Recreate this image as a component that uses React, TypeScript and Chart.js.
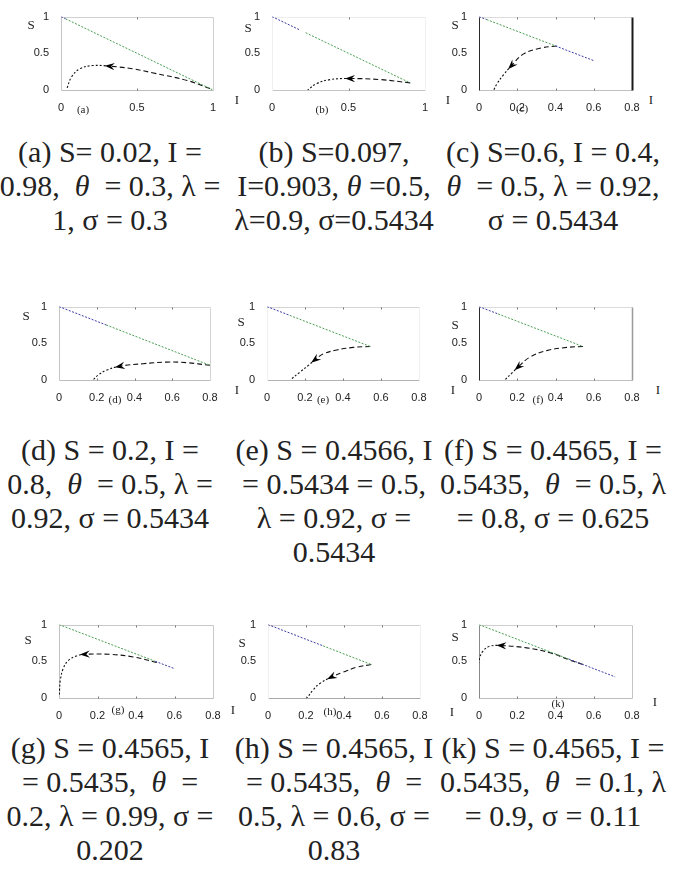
import { useEffect, useRef } from "react";
import { Chart, registerables } from "chart.js";

Chart.register(...registerables);

type Pt = [number, number]; // [I, S]

// Axis ticks
const yTicks = [0, 0.5, 1];
const xTicksUnit = [0, 0.5, 1];
const xTicksWide = [0, 0.2, 0.4, 0.6, 0.8];

// (a) S = 0.02, I = 0.98
const blueA: Pt[] = [[0, 1], [0.03, 0.97]];
const greenA: Pt[] = [[0.03, 0.97], [1, 0]];
const trajA: Pt[] = [[0.98, 0.02], [0.83, 0.13], [0.6, 0.235], [0.47, 0.29], [0.32, 0.324], [0.21, 0.333], [0.125, 0.29], [0.07, 0.18], [0.037, 0.01]];

// (b) S = 0.097, I = 0.903
const blueB: Pt[] = [[0, 1], [0.18, 0.82]];
const greenB: Pt[] = [[0.22, 0.78], [0.903, 0.097]];
const trajB: Pt[] = [[0.903, 0.097], [0.707, 0.142], [0.51, 0.156], [0.38, 0.142], [0.293, 0.089], [0.233, 0]];

// (c) S = 0.6, I = 0.4
const blueC: Pt[] = [[0, 1], [0.04, 0.96]];
const greenC: Pt[] = [[0.04, 0.96], [0.4, 0.6]];
const blueC2: Pt[] = [[0.4, 0.6], [0.6, 0.4]];
const trajC: Pt[] = [[0.406, 0.6], [0.319, 0.569], [0.231, 0.489], [0.17, 0.333], [0.126, 0.2], [0.095, 0.089], [0.077, 0]];

// (d) S = 0.2, I = 0.8
const blueD: Pt[] = [[0, 1], [0.25, 0.75]];
const greenD: Pt[] = [[0.25, 0.75], [0.8, 0.2]];
const trajD: Pt[] = [[0.8, 0.2], [0.676, 0.236], [0.57, 0.244], [0.446, 0.222], [0.322, 0.187], [0.251, 0.133], [0.207, 0.067], [0.18, 0]];

// (e) S = 0.4566, I = 0.5434
const blueE: Pt[] = [[0, 1], [0.12, 0.88]];
const greenE: Pt[] = [[0.12, 0.88], [0.5434, 0.4566]];
const trajE: Pt[] = [[0.5434, 0.4566], [0.454, 0.444], [0.367, 0.409], [0.297, 0.356], [0.253, 0.276], [0.218, 0.2], [0.175, 0.111], [0.122, 0]];

// (f) S = 0.4565, I = 0.5435
const blueF: Pt[] = [[0, 1], [0.1, 0.9]];
const greenF: Pt[] = [[0.1, 0.9], [0.5435, 0.4565]];
const trajF: Pt[] = [[0.5435, 0.4565], [0.459, 0.444], [0.354, 0.4], [0.266, 0.311], [0.205, 0.178], [0.17, 0.089], [0.135, 0]];

// (g) S = 0.4565, I = 0.5435
const greenG: Pt[] = [[0, 1], [0.5, 0.5]];
const blueG: Pt[] = [[0.5, 0.5], [0.6, 0.4]];
const trajG: Pt[] = [[0.508, 0.485], [0.386, 0.559], [0.264, 0.595], [0.134, 0.595], [0.09, 0.573], [0.047, 0.507], [0.021, 0.396], [0.007, 0.242], [0.003, 0.11], [0.002, 0.03]];

// (h) S = 0.4565, I = 0.5435
const blueH: Pt[] = [[0, 1], [0.29, 0.71]];
const greenH: Pt[] = [[0.29, 0.71], [0.5435, 0.4565]];
const trajH: Pt[] = [[0.5435, 0.4565], [0.466, 0.419], [0.396, 0.352], [0.334, 0.286], [0.273, 0.198], [0.237, 0.11], [0.206, 0]];

// (k) S = 0.4565, I = 0.5435
const greenK: Pt[] = [[0, 1], [0.47, 0.53]];
const blueK: Pt[] = [[0.47, 0.53], [0.712, 0.288]];
const trajK: Pt[] = [[0.5435, 0.4565], [0.476, 0.515], [0.371, 0.617], [0.249, 0.683], [0.117, 0.714], [0.056, 0.705], [0.021, 0.639], [0.004, 0.551], [0, 0.485]];

// Captions
const capA = ["(a) S= 0.02, I =", "0.98, \u00a0θ\u00a0 = 0.3, λ =", "1, σ = 0.3"];
const capB = ["(b) S=0.097,", "I=0.903, θ\u00a0=0.5,", "λ=0.9, σ=0.5434"];
const capC = ["(c) S=0.6, I = 0.4,", "θ\u00a0 = 0.5, λ = 0.92,", "σ = 0.5434"];
const capD = ["(d) S = 0.2, I =", "0.8, \u00a0θ\u00a0 = 0.5, λ =", "0.92, σ = 0.5434"];
const capE = ["(e) S = 0.4566, I", "= 0.5434 = 0.5,", "λ = 0.92, σ =", "0.5434"];
const capF = ["(f) S = 0.4565, I =", "0.5435, \u00a0θ\u00a0 = 0.5, λ", "= 0.8, σ = 0.625"];
const capG = ["(g) S = 0.4565, I", "= 0.5435, \u00a0θ\u00a0 =", "0.2, λ = 0.99, σ =", "0.202"];
const capH = ["(h) S = 0.4565, I", "= 0.5435, \u00a0θ\u00a0 =", "0.5, λ = 0.6, σ =", "0.83"];
const capK = ["(k) S = 0.4565, I =", "0.5435, \u00a0θ\u00a0 = 0.1, λ", "= 0.9, σ = 0.11"];

const BLUE = "#3c3ca8";
const GREEN = "#4a9f52";

type Edge = [string, number];
interface PanelSpec {
  id: string;
  l: number; t: number; w: number; h: number;
  xMax: number;
  xTicks: number[];
  blue: Pt[][];
  green: Pt[][];
  traj: Pt[];
  arrowAt: number;
  edges: { top: Edge; right: Edge; bottom: Edge; left: Edge };
}

const PAD_L = 30, PAD_T = 9, PAD_R = 14, PAD_B = 22;

const PANELS: PanelSpec[] = [
  { id: "a", l: 61, t: 15, w: 152, h: 75, xMax: 1, xTicks: xTicksUnit, blue: [blueA], green: [greenA], traj: trajA, arrowAt: 4,
    edges: { top: ["#d0d0d0", 1], right: ["#d0d0d0", 1], bottom: ["#bdbdbd", 1], left: ["#c4c4c4", 1] } },
  { id: "b", l: 272, t: 15, w: 153, h: 75, xMax: 1, xTicks: xTicksUnit, blue: [blueB], green: [greenB], traj: trajB, arrowAt: 2,
    edges: { top: ["#ececec", 1], right: ["#f0f0f0", 1], bottom: ["#c4c4c4", 1], left: ["#f0f0f0", 1] } },
  { id: "c", l: 479, t: 15, w: 153, h: 75, xMax: 0.8, xTicks: xTicksWide, blue: [blueC, blueC2], green: [greenC], traj: trajC, arrowAt: 3,
    edges: { top: ["#dcdcdc", 1], right: ["#1a1a1a", 2], bottom: ["#c0c0c0", 1], left: ["#2a2a2a", 1] } },
  { id: "d", l: 59, t: 305, w: 151, h: 75, xMax: 0.8, xTicks: xTicksWide, blue: [blueD], green: [greenD], traj: trajD, arrowAt: 4,
    edges: { top: ["#d4d4d4", 1], right: ["#d4d4d4", 1], bottom: ["#bdbdbd", 1], left: ["#c4c4c4", 1] } },
  { id: "e", l: 267, t: 305, w: 152, h: 75, xMax: 0.8, xTicks: xTicksWide, blue: [blueE], green: [greenE], traj: trajE, arrowAt: 4,
    edges: { top: ["#d4d4d4", 1], right: ["#f0f0f0", 1], bottom: ["#b4b4b4", 1], left: ["#f0f0f0", 1] } },
  { id: "f", l: 479, t: 305, w: 153, h: 75, xMax: 0.8, xTicks: xTicksWide, blue: [blueF], green: [greenF], traj: trajF, arrowAt: 4,
    edges: { top: ["#dcdcdc", 1], right: ["#9a9a9a", 1.5], bottom: ["#c0c0c0", 1], left: ["#2a2a2a", 1] } },
  { id: "g", l: 59, t: 623, w: 154, h: 75, xMax: 0.8, xTicks: xTicksWide, blue: [blueG], green: [greenG], traj: trajG, arrowAt: 3,
    edges: { top: ["#c8c8c8", 1], right: ["#c8c8c8", 1], bottom: ["#bdbdbd", 1], left: ["#c0c0c0", 1] } },
  { id: "h", l: 268, t: 623, w: 152, h: 75, xMax: 0.8, xTicks: xTicksWide, blue: [blueH], green: [greenH], traj: trajH, arrowAt: 3,
    edges: { top: ["#cfcfcf", 1], right: ["#f0f0f0", 1], bottom: ["#a8a8a8", 1], left: ["#f0f0f0", 1] } },
  { id: "k", l: 479, t: 623, w: 153, h: 75, xMax: 0.8, xTicks: xTicksWide, blue: [blueK], green: [greenK], traj: trajK, arrowAt: 4,
    edges: { top: ["#cfcfcf", 1], right: ["#c4c4c4", 1], bottom: ["#bdbdbd", 1], left: ["#8a8a8a", 1] } },
];

const series = (pts: Pt[]) => pts.map(([x, y]) => ({ x, y }));
const tickText = (v: number | string) => String(Math.round(Number(v) * 100) / 100);

// Frame, inner tick marks and the direction arrow on the trajectory
function decoPlugin(spec: PanelSpec) {
  return {
    id: "deco" + spec.id,
    beforeDatasetsDraw(chart: any) {
      const { ctx, chartArea: a } = chart;
      const line = (e: Edge, x1: number, y1: number, x2: number, y2: number) => {
        ctx.save();
        ctx.strokeStyle = e[0];
        ctx.lineWidth = e[1];
        ctx.beginPath();
        ctx.moveTo(x1, y1);
        ctx.lineTo(x2, y2);
        ctx.stroke();
        ctx.restore();
      };
      const L = Math.round(a.left) + 0.5, R = Math.round(a.right) + 0.5;
      const T = Math.round(a.top) + 0.5, B = Math.round(a.bottom) + 0.5;
      line(spec.edges.top, L, T, R, T);
      line(spec.edges.bottom, L, B, R, B);
      line(spec.edges.left, L, T, L, B);
      line(spec.edges.right, R, T, R, B);
      const xs = chart.scales.x;
      ctx.save();
      ctx.strokeStyle = "#777";
      ctx.lineWidth = 1;
      for (const tk of xs.ticks) {
        const px = Math.round(xs.getPixelForValue(tk.value)) + 0.5;
        if (px <= L + 1 || px >= R - 1) continue;
        ctx.beginPath();
        ctx.moveTo(px, T);
        ctx.lineTo(px, T + 2);
        ctx.moveTo(px, B);
        ctx.lineTo(px, B - 2);
        ctx.stroke();
      }
      ctx.restore();
    },
    afterDatasetsDraw(chart: any) {
      const meta = chart.getDatasetMeta(chart.data.datasets.length - 1);
      const pts = meta.data;
      const p = pts[spec.arrowAt], p0 = pts[spec.arrowAt - 1], p1 = pts[spec.arrowAt + 1];
      if (!p || !p0 || !p1) return;
      let dx = p1.x - p0.x, dy = p1.y - p0.y;
      const len = Math.hypot(dx, dy) || 1;
      dx /= len; dy /= len;
      const nx = -dy, ny = dx;
      const L = 10, W = 3.6;
      const tx = p.x + dx * L * 0.5, ty = p.y + dy * L * 0.5;
      const bx = p.x - dx * L * 0.5, by = p.y - dy * L * 0.5;
      const ctx = chart.ctx;
      ctx.save();
      ctx.fillStyle = "#000";
      ctx.beginPath();
      ctx.moveTo(tx, ty);
      ctx.lineTo(bx + nx * W, by + ny * W);
      ctx.lineTo(p.x - dx * L * 0.15, p.y - dy * L * 0.15);
      ctx.lineTo(bx - nx * W, by - ny * W);
      ctx.closePath();
      ctx.fill();
      ctx.restore();
    },
  };
}

function Panel({ spec }: { spec: PanelSpec }) {
  const ref = useRef<HTMLCanvasElement>(null);
  const cw = spec.w + PAD_L + PAD_R;
  const ch = spec.h + PAD_T + PAD_B;

  useEffect(() => {
    if (!ref.current) return;
    const tickFont = { family: "'Liberation Sans', Arial, sans-serif", size: 11 };
    const datasets: any[] = [
      ...spec.blue.map((seg) => ({
        data: series(seg), borderColor: BLUE, borderWidth: 1, borderDash: [2, 1.5], pointRadius: 0, tension: 0,
      })),
      ...spec.green.map((seg) => ({
        data: series(seg), borderColor: GREEN, borderWidth: 1, borderDash: [2, 1.5], pointRadius: 0, tension: 0,
      })),
      {
        data: series(spec.traj), borderColor: "#111", borderWidth: 1.1, pointRadius: 0, tension: 0.4,
        segment: { borderDash: (c: any) => (c.p0DataIndex < spec.arrowAt ? [5, 3] : [2, 2]) },
      },
    ];
    const chart = new Chart(ref.current, {
      type: "line",
      data: { datasets },
      options: {
        animation: false,
        responsive: false,
        events: [],
        layout: { padding: { top: PAD_T, right: PAD_R, left: 0, bottom: 0 } },
        plugins: { legend: { display: false }, tooltip: { enabled: false } },
        scales: {
          x: {
            type: "linear", min: 0, max: spec.xMax,
            afterBuildTicks: (s: any) => { s.ticks = spec.xTicks.map((v) => ({ value: v })); },
            afterFit: (s: any) => { s.height = PAD_B; },
            grid: { display: false }, border: { display: false },
            ticks: { font: tickFont, color: "#222", padding: 3, maxRotation: 0, autoSkip: false, callback: tickText },
          },
          y: {
            type: "linear", min: 0, max: 1,
            afterBuildTicks: (s: any) => { s.ticks = yTicks.map((v) => ({ value: v })); },
            afterFit: (s: any) => { s.width = PAD_L; },
            grid: { display: false }, border: { display: false },
            ticks: { font: tickFont, color: "#222", padding: 4, autoSkip: false, callback: tickText },
          },
        },
      } as any,
      plugins: [decoPlugin(spec)],
    });
    return () => chart.destroy();
  }, [spec]);

  return (
    <canvas
      ref={ref}
      width={cw}
      height={ch}
      style={{ position: "absolute", left: spec.l - PAD_L, top: spec.t - PAD_T, width: cw, height: ch }}
    />
  );
}

// Small axis-name and sub-panel labels
const MARKS: { text: string; x: number; y: number; size: number }[] = [
  { text: "S", x: 31, y: 25, size: 13 }, { text: "(a)", x: 83, y: 109, size: 11 },
  { text: "S", x: 248, y: 28, size: 13 }, { text: "(b)", x: 322, y: 109, size: 11 },
  { text: "I", x: 237, y: 100, size: 13 }, { text: "I", x: 448, y: 100, size: 13 },
  { text: "S", x: 455, y: 25, size: 13 }, { text: "(c)", x: 522, y: 108, size: 11 }, { text: "I", x: 651, y: 100, size: 13 },
  { text: "S", x: 26, y: 316, size: 13 }, { text: "(d)", x: 115, y: 399, size: 11 },
  { text: "S", x: 241, y: 322, size: 13 }, { text: "(e)", x: 323, y: 399, size: 11 }, { text: "I", x: 237, y: 390, size: 13 },
  { text: "S", x: 455, y: 325, size: 13 }, { text: "(f)", x: 538, y: 399, size: 11 },
  { text: "I", x: 453, y: 390, size: 13 }, { text: "I", x: 658, y: 390, size: 13 },
  { text: "S", x: 28, y: 640, size: 13 }, { text: "(g)", x: 118, y: 709, size: 11 },
  { text: "S", x: 242, y: 643, size: 13 }, { text: "(h)", x: 330, y: 711, size: 11 }, { text: "I", x: 233, y: 710, size: 13 },
  { text: "S", x: 455, y: 637, size: 13 }, { text: "(k)", x: 558, y: 703, size: 11 },
  { text: "I", x: 452, y: 712, size: 13 }, { text: "I", x: 655, y: 702, size: 13 },
];

const CAPTIONS: { lines: string[]; cx: number; cy: number }[] = [
  { lines: capA, cx: 110, cy: 152 },
  { lines: capB, cx: 334, cy: 152 },
  { lines: capC, cx: 553, cy: 152 },
  { lines: capD, cx: 110, cy: 450 },
  { lines: capE, cx: 334, cy: 450 },
  { lines: capF, cx: 553, cy: 450 },
  { lines: capG, cx: 110, cy: 748 },
  { lines: capH, cx: 334, cy: 748 },
  { lines: capK, cx: 553, cy: 748 },
];

const LINE_H = 34;
const SERIF = "'Liberation Serif', 'Times New Roman', Times, serif";

function CaptionLine({ text }: { text: string }) {
  const parts = text.split("θ");
  return (
    <div style={{ height: LINE_H, whiteSpace: "pre" }}>
      {parts.map((p, i) => (
        <span key={i}>
          {p}
          {i < parts.length - 1 && <i style={{ fontFamily: SERIF }}>θ</i>}
        </span>
      ))}
    </div>
  );
}

export default function App() {
  return (
    <div style={{ position: "absolute", left: 0, top: 0, width: 680, height: 884, background: "#fff", overflow: "hidden" }}>
      {PANELS.map((p) => <Panel key={p.id} spec={p} />)}
      {MARKS.map((m, i) => (
        <div
          key={i}
          style={{
            position: "absolute", left: m.x, top: m.y, transform: "translate(-50%, -50%)",
            fontFamily: SERIF, fontSize: m.size, color: "#222", whiteSpace: "nowrap",
          }}
        >
          {m.text}
        </div>
      ))}
      {CAPTIONS.map((c, i) => (
        <div
          key={i}
          style={{
            position: "absolute", left: c.cx - 125, top: c.cy - LINE_H / 2, width: 250, textAlign: "center",
            fontFamily: SERIF, fontSize: 30, lineHeight: `${LINE_H}px`, color: "#222",
          }}
        >
          {c.lines.map((l, j) => <CaptionLine key={j} text={l} />)}
        </div>
      ))}
    </div>
  );
}
